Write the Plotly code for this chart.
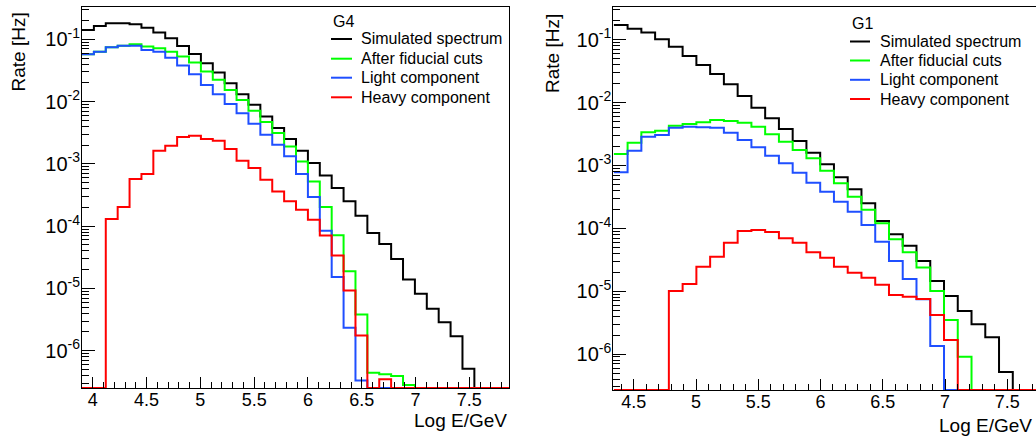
import plotly.graph_objects as go

W, H = 1036, 441
FONT = "Liberation Sans, Arial, Helvetica, sans-serif"

# ---------------- data ----------------
bin_width = 0.1105
g4_bin_start = 3.9
g1_bin_start = 4.34

series_names = ["Simulated spectrum", "After fiducial cuts", "Light component", "Heavy component"]
series_colors = ["#000000", "#00ff00", "#1f4fff", "#ff0000"]

g4_simulated = [0.141, 0.163, 0.180, 0.180, 0.174, 0.153, 0.129, 0.104, 0.078, 0.058,
                0.0412, 0.0292, 0.0197, 0.0131, 0.00886, 0.00575, 0.00375, 0.00250, 0.00162, 0.00103,
                6.52e-4, 4.09e-4, 2.5e-4, 1.47e-4, 7.78e-5, 5.19e-5, 2.98e-5, 1.39e-5, 8.19e-6, 4.71e-6,
                2.87e-6, 1.71e-6, 5.15e-7, 0, 0, 0]
g4_fiducial = [0.0575, 0.0633, 0.0745, 0.0789, 0.083, 0.0762, 0.0717, 0.0633, 0.0527, 0.0422,
               0.0303, 0.0223, 0.0154, 0.01064, 0.0071, 0.00468, 0.00312, 0.0019, 0.00109, 5.22e-4,
               2.03e-4, 7.13e-5, 1.89e-5, 3.82e-6, 4.44e-7, 4.2e-7, 3.92e-7, 2.81e-7, 0, 0,
               0, 0, 0, 0, 0, 0]
g4_light = [0.0575, 0.0633, 0.0745, 0.0789, 0.0789, 0.0674, 0.0633, 0.0507, 0.0378, 0.0275,
            0.0185, 0.0131, 0.00918, 0.00652, 0.0044, 0.00292, 0.00202, 0.00132, 6.87e-4, 2.94e-4,
            8.47e-5, 1.53e-5, 2.34e-6, 3.34e-7, 0, 0, 0, 0, 0, 0,
            0, 0, 0, 0, 0, 0]
g4_heavy = [0, 0, 1.3e-4, 2.03e-4, 5.7e-4, 6.87e-4, 0.00162, 0.00195, 0.00269, 0.00282,
            0.0025, 0.00234, 0.00173, 0.00112, 8.57e-4, 5.56e-4, 3.61e-4, 2.5e-4, 1.84e-4, 1.27e-4,
            7.05e-5, 3.37e-5, 9.25e-6, 1.76e-6, 0, 3.48e-7, 0, 0, 0, 0,
            0, 0, 0, 0, 0, 0]

g1_simulated = [0.171, 0.149, 0.130, 0.101, 0.0771, 0.0548, 0.0394, 0.0284, 0.0195, 0.0127,
                0.00826, 0.0056, 0.00379, 0.00244, 0.00159, 0.00104, 6.47e-4, 4.17e-4, 2.49e-4, 1.3e-4,
                8.03e-5, 5.29e-5, 3.02e-5, 1.45e-5, 8.39e-6, 4.85e-6, 2.98e-6, 1.85e-6, 5.19e-7, 0,
                0, 0]
g1_fiducial = [1.52e-3, 2.3e-3, 3.36e-3, 3.56e-3, 4.28e-3, 4.55e-3, 4.84e-3, 5.27e-3, 5.08e-3, 4.77e-3,
               4.12e-3, 3.12e-3, 2.38e-3, 1.76e-3, 1.3e-3, 8.24e-4, 5.19e-4, 3.18e-4, 1.97e-4, 1.2e-4,
               6.68e-5, 4.15e-5, 2.37e-5, 1.01e-5, 3.48e-6, 9.1e-7, 0, 0, 0, 0,
               0, 0]
g1_light = [7.76e-4, 1.71e-3, 2.86e-3, 3.04e-3, 3.97e-3, 4.12e-3, 4.03e-3, 3.97e-3, 3.31e-3, 2.54e-3,
            1.94e-3, 1.42e-3, 1.08e-3, 7.66e-4, 5.31e-4, 3.82e-4, 2.65e-4, 1.84e-4, 1.13e-4, 6.12e-5,
            3.02e-5, 1.56e-5, 7.43e-6, 1.35e-6, 0, 0, 0, 0, 0, 0,
            0, 0]
g1_heavy = [0, 0, 0, 0, 1.01e-5, 1.3e-5, 2.45e-5, 3.54e-5, 5.9e-5, 9.06e-5,
            9.4e-5, 8.73e-5, 6.93e-5, 5.9e-5, 4.15e-5, 3.41e-5, 2.45e-5, 1.97e-5, 1.64e-5, 1.26e-5,
            8.71e-6, 8.19e-6, 7.52e-6, 4.18e-6, 1.68e-6, 0, 0, 0, 0, 0,
            0, 0]

g4_xticks = [4, 4.5, 5, 5.5, 6, 6.5, 7, 7.5]
g1_xticks = [4.5, 5, 5.5, 6, 6.5, 7, 7.5]
y_decades = [-6, -5, -4, -3, -2, -1]

# ---------------- layout geometry (pixels) ----------------
def px_x(p):
    return p / W

def px_y(p):
    return 1 - p / H

L_X0, L_X1, L_Y0, L_Y1 = 82, 509, 6.5, 388
R_X0, R_X1, R_Y0, R_Y1 = 613.3, 1036, 7.3, 390

g4_xrange = [3.9, 3.9 + (L_X1 - L_X0) / 107.6]
g1_xrange = [4.3357, 4.5 + (R_X1 - 633.75) / 124.5]
g4_yrange = [-6.598, -0.474]
g1_yrange = [-6.571, -0.4865]

fig = go.Figure()


def add_hist(vals, start, yrange, xa, ya, name, color):
    floor = 10 ** yrange[0]
    n = len(vals)
    xs = [start + i * bin_width for i in range(n + 1)]
    ys = [v if v > 0 else floor for v in vals]
    ys = ys + [ys[-1]]
    fig.add_trace(go.Scatter(x=xs, y=ys, mode="lines", line_shape="hv",
                             line=dict(color=color, width=2), name=name,
                             xaxis=xa, yaxis=ya, showlegend=False, cliponaxis=True))


for vals, nm, col in zip([g4_simulated, g4_fiducial, g4_light, g4_heavy], series_names, series_colors):
    add_hist(vals, g4_bin_start, g4_yrange, "x", "y", nm, col)
for vals, nm, col in zip([g1_simulated, g1_fiducial, g1_light, g1_heavy], series_names, series_colors):
    add_hist(vals, g1_bin_start, g1_yrange, "x2", "y2", nm, col)

minor_y = [m * 10 ** e for e in range(-7, 1) for m in range(2, 10)]
ytext = ["10<sup>%d</sup>" % d for d in y_decades]


def xaxis_cfg(rng, ticks, x0, x1, anchor, mirror=True):
    return dict(range=rng, domain=[px_x(x0), px_x(x1)], anchor=anchor, automargin=False,
                showline=True, linecolor="black", linewidth=1, mirror=mirror,
                ticks="inside", ticklen=11, tickwidth=1, tickcolor="black",
                tickvals=ticks, ticktext=[("%g" % t) for t in ticks],
                tickfont=dict(family=FONT, size=18, color="black"),
                ticklabelstandoff=-5,
                showgrid=False, zeroline=False,
                minor=dict(dtick=0.1, tick0=0, ticks="inside", ticklen=6,
                           tickwidth=1, tickcolor="black", showgrid=False))


def yaxis_cfg(rng, y0, y1, anchor, mirror=True):
    return dict(type="log", range=rng, domain=[px_y(y1), px_y(y0)], anchor=anchor, automargin=False,
                showline=True, linecolor="black", linewidth=1, mirror=mirror,
                ticks="inside", ticklen=13, tickwidth=1, tickcolor="black",
                tickvals=[10 ** d for d in y_decades], ticktext=ytext,
                tickfont=dict(family=FONT, size=20, color="black"),
                ticklabelstandoff=-3,
                showgrid=False, zeroline=False,
                minor=dict(tickmode="array", tickvals=minor_y, ticks="inside", ticklen=7,
                           tickwidth=1, tickcolor="black", showgrid=False))


fig.update_layout(
    width=W, height=H,
    margin=dict(l=0, r=0, t=0, b=0, autoexpand=False),
    paper_bgcolor="white", plot_bgcolor="white",
    showlegend=False,
    font=dict(family=FONT, color="black"),
    xaxis=xaxis_cfg(g4_xrange, g4_xticks, L_X0, L_X1, "y"),
    yaxis=yaxis_cfg(g4_yrange, L_Y0, L_Y1, "x"),
    xaxis2=xaxis_cfg(g1_xrange, g1_xticks, R_X0, R_X1, "y2"),
    yaxis2=yaxis_cfg(g1_yrange, R_Y0, R_Y1, "x2", mirror=False),
)

# axis titles
ann = []
for (x, y) in [(18, 52.5), (552, 54)]:
    ann.append(dict(x=px_x(x), y=px_y(y), xref="paper", yref="paper", text="Rate [Hz]",
                    textangle=-90, showarrow=False, xanchor="center", yanchor="middle",
                    font=dict(family=FONT, size=19, color="black")))
for (x, y) in [(508.5, 420), (1034, 425)]:
    ann.append(dict(x=px_x(x), y=px_y(y), xref="paper", yref="paper", text="Log E/GeV",
                    showarrow=False, xanchor="right", yanchor="middle",
                    font=dict(family=FONT, size=19, color="black")))

# legends (drawn manually to match the reference box)
shapes = []
legends = [("G4", 331, 352, 359, 21.5, [39, 58.7, 77.7, 97.3]),
           ("G1", 850, 870, 878, 24, [41.5, 60.5, 79.8, 99])]
for title, lx0, lx1, tx, ty, rows in legends:
    ann.append(dict(x=px_x(lx0), y=px_y(ty), xref="paper", yref="paper", text=title,
                    showarrow=False, xanchor="left", yanchor="middle",
                    font=dict(family=FONT, size=16, color="black")))
    for ry, nm, col in zip(rows, series_names, series_colors):
        shapes.append(dict(type="line", xref="paper", yref="paper",
                           x0=px_x(lx0), x1=px_x(lx1), y0=px_y(ry), y1=px_y(ry),
                           line=dict(color=col, width=2)))
        ann.append(dict(x=px_x(tx), y=px_y(ry), xref="paper", yref="paper", text=nm,
                        showarrow=False, xanchor="left", yanchor="middle",
                        font=dict(family=FONT, size=16, color="black")))

fig.update_layout(annotations=ann, shapes=shapes)

fig.write_html("out.html", config={"displayModeBar": False},
               post_script="document.body.style.margin='0';document.body.style.overflow='hidden';")
